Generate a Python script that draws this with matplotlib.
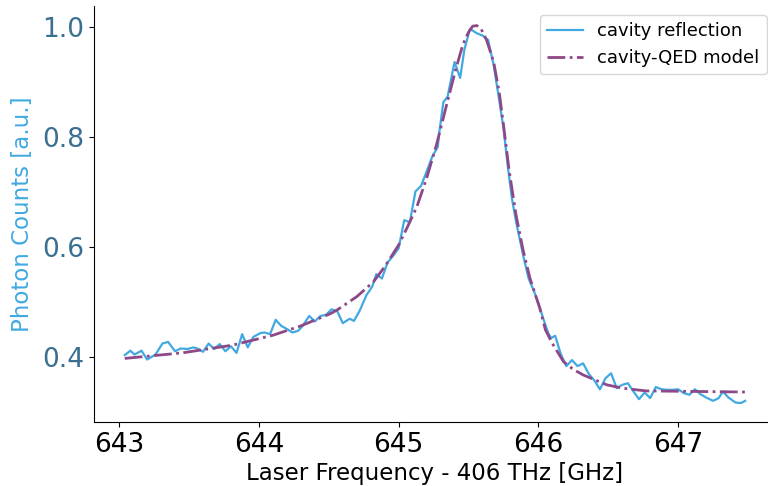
import matplotlib
matplotlib.use("Agg")
import matplotlib.pyplot as plt
import numpy as np

# measured cavity reflection (x in GHz offset from 406 THz, normalized counts)
freq_meas = [643.04, 643.08, 643.11, 643.16, 643.20, 643.26, 643.31, 643.35, 643.40, 643.44,
             643.49, 643.53, 643.56, 643.60, 643.64, 643.68, 643.72, 643.76, 643.80, 643.84,
             643.88, 643.92, 643.96, 644.01, 644.04, 644.08, 644.12, 644.16, 644.21, 644.24,
             644.28, 644.31, 644.36, 644.40, 644.44, 644.48, 644.52, 644.56, 644.60, 644.65,
             644.68, 644.72, 644.77, 644.81, 644.84, 644.88, 644.92, 644.96, 645.00, 645.04,
             645.08, 645.12, 645.16, 645.20, 645.24, 645.28, 645.29, 645.32, 645.35, 645.40,
             645.44, 645.47, 645.51, 645.56, 645.60, 645.64, 645.68, 645.71, 645.75, 645.78,
             645.81, 645.84, 645.89, 645.93, 645.97, 646.00, 646.03, 646.07, 646.09, 646.12,
             646.16, 646.20, 646.24, 646.28, 646.32, 646.36, 646.40, 646.44, 646.48, 646.52,
             646.56, 646.60, 646.64, 646.68, 646.72, 646.76, 646.80, 646.84, 646.88, 646.92,
             646.96, 647.00, 647.04, 647.08, 647.12, 647.16, 647.20, 647.25, 647.29, 647.32,
             647.36, 647.41, 647.45, 647.48]
counts_meas = [0.404, 0.412, 0.405, 0.412, 0.396, 0.405, 0.425, 0.428, 0.411, 0.416,
               0.415, 0.418, 0.416, 0.410, 0.425, 0.415, 0.424, 0.411, 0.420, 0.408,
               0.442, 0.418, 0.437, 0.444, 0.445, 0.442, 0.468, 0.457, 0.450, 0.445,
               0.448, 0.456, 0.475, 0.465, 0.475, 0.477, 0.487, 0.484, 0.462, 0.470,
               0.466, 0.484, 0.513, 0.528, 0.551, 0.543, 0.572, 0.584, 0.598, 0.649,
               0.645, 0.701, 0.711, 0.737, 0.764, 0.782, 0.807, 0.863, 0.873, 0.936,
               0.907, 0.958, 0.996, 0.988, 0.984, 0.976, 0.930, 0.882, 0.816, 0.749,
               0.689, 0.646, 0.586, 0.543, 0.519, 0.498, 0.474, 0.444, 0.435, 0.439,
               0.406, 0.384, 0.395, 0.384, 0.389, 0.370, 0.358, 0.342, 0.362, 0.371,
               0.344, 0.350, 0.353, 0.338, 0.324, 0.336, 0.326, 0.346, 0.342, 0.341,
               0.341, 0.342, 0.335, 0.332, 0.342, 0.333, 0.327, 0.321, 0.326, 0.338,
               0.327, 0.318, 0.317, 0.321]

# cavity-QED model curve
freq_model = [643.04, 643.45, 643.81, 644.10, 644.30, 644.51, 644.56, 644.70, 644.82, 644.91,
              645.00, 645.06, 645.13, 645.20, 645.27, 645.34, 645.41, 645.46, 645.50, 645.53,
              645.56, 645.59, 645.63, 645.68, 645.72, 645.75, 645.79, 645.84, 645.89, 645.94,
              646.01, 646.05, 646.10, 646.18, 646.25, 646.32, 646.49, 646.60, 646.77, 647.13,
              647.48]
counts_model = [0.398, 0.408, 0.422, 0.440, 0.457, 0.479, 0.486, 0.510, 0.537, 0.568,
                0.604, 0.635, 0.673, 0.725, 0.785, 0.855, 0.924, 0.968, 0.990, 1.001,
                1.002, 0.996, 0.975, 0.936, 0.880, 0.822, 0.740, 0.658, 0.595, 0.543,
                0.489, 0.450, 0.425, 0.392, 0.378, 0.368, 0.350, 0.344, 0.339, 0.338,
                0.337]

xticks = [643, 644, 645, 646, 647]
yticks = [0.4, 0.6, 0.8, 1.0]

blue = "#41a9e1"
purple = "#8e4888"
ytick_color = "#3a6f91"

fig = plt.figure(figsize=(7.68, 4.86), dpi=100)
ax = fig.add_axes([0.1224, 0.1317, 0.888, 0.856])

ax.plot(freq_meas, counts_meas, color=blue, lw=1.6, label="cavity reflection")
ax.plot(freq_model, counts_model, color=purple, lw=2.0, ls="-.", label="cavity-QED model")

ax.set_xlim(642.82, 647.70)
ax.set_ylim(0.2826, 1.0376)
ax.set_xticks(xticks)
ax.set_yticks(yticks)
ax.set_yticklabels([f"{v:.1f}" for v in yticks])

ax.tick_params(axis="x", labelsize=19)
ax.tick_params(axis="y", labelsize=19, labelcolor=ytick_color)

ax.spines["top"].set_visible(False)
ax.spines["right"].set_visible(False)

ax.set_xlabel("Laser Frequency - 406 THz [GHz]", fontsize=16.5, labelpad=3)
ax.set_ylabel("Photon Counts [a.u.]", fontsize=16.5, color=blue, labelpad=6)

ax.legend(loc="upper right", fontsize=13)

fig.savefig("out.png", dpi=100)
